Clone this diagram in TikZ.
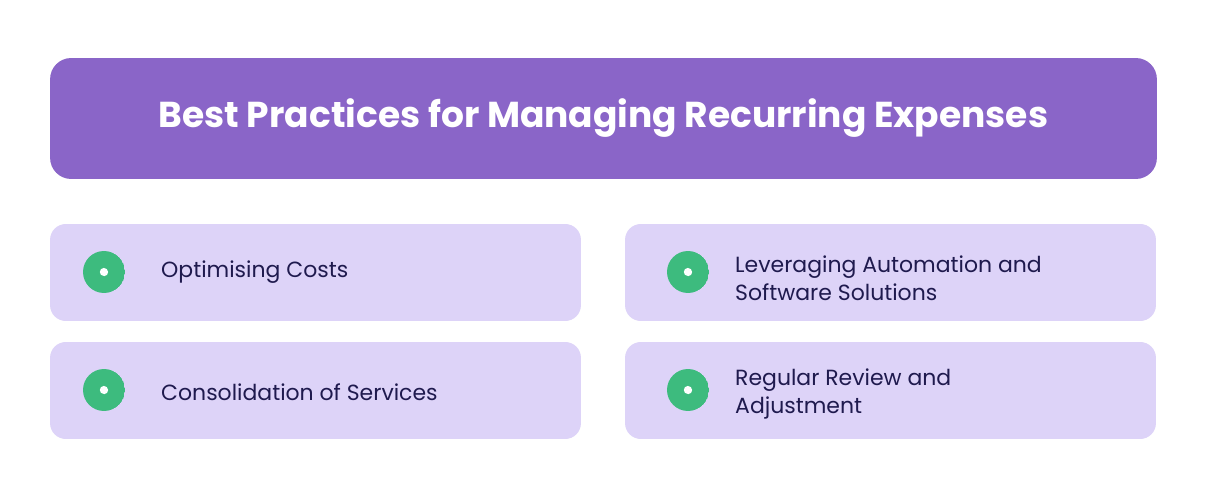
\documentclass[tikz,border=0pt]{standalone}
\usepackage{fontspec}
\setmainfont{Poppins}
\usetikzlibrary{positioning}
\definecolor{titlefill}{HTML}{8A65C8}
\definecolor{itemfill}{HTML}{DDD3F8}
\definecolor{itemtext}{HTML}{1F1A4E}
\definecolor{checkgreen}{HTML}{3DBB7E}
\definecolor{checkshade}{HTML}{24A068}
\tikzset{
  itembox/.style={fill=itemfill, rounded corners=9pt, minimum width=10.62cm, minimum height=1.94cm, inner sep=0pt},
  itemlabel/.style={text=itemtext, font=\fontsize{12.5}{16}\selectfont, align=left, anchor=west},
}
\newcommand{\checkicon}[1]{%
  \begin{scope}
    \clip (#1) circle (0.42cm);
    \fill[checkgreen] (#1) circle (0.42cm);
    \fill[checkshade] ($(#1)+(-0.12,-0.2)$) -- ($(#1)+(0.26,0.14)$) -- ++(1,-1) -- ++(-1,-1) -- cycle;
  \end{scope}
  \draw[white, line width=4.5pt, line cap=round, line join=round]
    ($(#1)+(-0.24,0.0)$) -- ($(#1)+(-0.1,-0.14)$) -- ($(#1)+(0.2,0.15)$);
}
\usetikzlibrary{calc}
\begin{document}
\begin{tikzpicture}[x=0.02cm,y=-0.02cm]
\useasboundingbox (0,0) rectangle (1208,500);
\fill[white] (0,0) rectangle (1208,500);
\node[fill=titlefill, rounded corners=12pt, minimum width=22.14cm, minimum height=2.42cm, inner sep=0pt] (title) at (603.5,118.5) {};
\node[text=white, font=\fontsize{20.5}{24}\selectfont\bfseries] (titletext) at (title.center) {Best Practices for Managing Recurring Expenses};
% items
\node[itembox] (cost) at (315.5,272.5) {};
\node[itembox] (auto) at (890.5,272.5) {};
\node[itembox] (cons) at (315.5,390.5) {};
\node[itembox] (rev) at (890.5,390.5) {};
\coordinate (costicon) at (104,272);
\coordinate (autoicon) at (688,272);
\coordinate (consicon) at (104,390);
\coordinate (revicon) at (688,390);
\foreach \ic in {costicon,autoicon,consicon,revicon}{\checkicon{\ic}}
\node[itemlabel] (costtext) at (155,272) {Optimising Costs};
\node[itemlabel] (autotext) at (729,278) {Leveraging Automation and\\Software Solutions};
\node[itemlabel] (constext) at (155,392) {Consolidation of Services};
\node[itemlabel] (revtext) at (729,394) {Regular Review and\\Adjustment};
\end{tikzpicture}
\end{document}
